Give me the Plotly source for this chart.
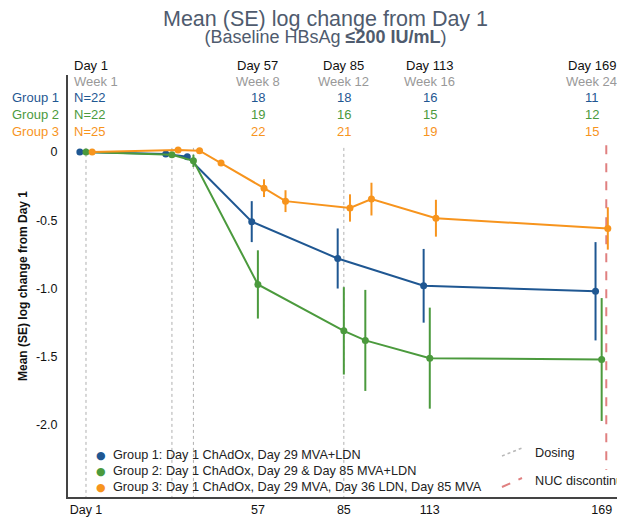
import plotly.graph_objects as go

# ---- data ----
g1_days = [1, 29, 36, 57, 85, 113, 169]
g1_mean = [0, -0.015, -0.035, -0.51, -0.78, -0.98, -1.02]
g1_se = [0, 0.01, 0.015, 0.15, 0.22, 0.27, 0.36]

g2_days = [1, 29, 36, 57, 85, 92, 113, 169]
g2_mean = [0, -0.02, -0.065, -0.97, -1.31, -1.38, -1.51, -1.52]
g2_se = [0, 0.01, 0.045, 0.25, 0.32, 0.37, 0.37, 0.45]

g3_days = [1, 29, 36, 43, 57, 64, 85, 92, 113, 169]
g3_mean = [0, 0.015, 0.01, -0.08, -0.265, -0.36, -0.41, -0.345, -0.485, -0.56]
g3_se = [0, 0.01, 0.01, 0.02, 0.065, 0.08, 0.1, 0.12, 0.135, 0.155]

dosing_days = [1, 29, 36, 85]
nuc_day = 170.5

header_days = [1, 57, 85, 113, 169]
header_weeks = ["Week 1", "Week 8", "Week 12", "Week 16", "Week 24"]
n_g1 = ["N=22", "18", "18", "16", "11"]
n_g2 = ["N=22", "19", "16", "15", "12"]
n_g3 = ["N=25", "22", "21", "19", "15"]

group_names = ["Group 1", "Group 2", "Group 3"]
legend_labels = [
    "Group 1: Day 1 ChAdOx, Day 29 MVA+LDN",
    "Group 2: Day 1 ChAdOx, Day 29 & Day 85 MVA+LDN",
    "Group 3: Day 1 ChAdOx, Day 29 MVA, Day 36 LDN, Day 85 MVA",
]

x_tickvals = [1, 57, 85, 113, 169]
x_ticktext = ["Day 1", "57", "85", "113", "169"]
y_tickvals = [0, -0.5, -1.0, -1.5, -2.0]
y_ticktext = ["0", "-0.5", "-1.0", "-1.5", "-2.0"]

# ---- style ----
colors = ["#1f5792", "#4b9a3d", "#f7941d"]
dodge = [-2, 0, 2]
FONT = "Liberation Sans, Arial, sans-serif"

# page body has an 8px margin, so the figure is drawn 8px in from the top-left
OFF = 8
W, H = 625 - OFF, 524 - OFF
ML, MR, MT, MB = 68 - OFF, 0, 75 - OFF, 27
PW, PH = W - ML - MR, H - MT - MB


def px(xp):  # page pixel -> paper x
    return (xp - OFF - ML) / PW


def py(yp):  # page pixel -> paper y
    return (H - MB - (yp - OFF)) / PH


fig = go.Figure()

# dosing lines
for d in dosing_days:
    fig.add_shape(type="line", xref="x", yref="y", x0=d, x1=d, y0=0.03, y1=-2.53,
                  line=dict(color="#b0b0b0", width=1, dash="dot"), layer="below")
# NUC discontinuation
fig.add_shape(type="line", xref="x", yref="y", x0=nuc_day, x1=nuc_day, y0=0.05, y1=-2.33,
              line=dict(color="#e08080", width=2, dash="dash"), layer="below")

groups = [(g1_days, g1_mean, g1_se), (g2_days, g2_mean, g2_se), (g3_days, g3_mean, g3_se)]
for i, (days, mean, se) in enumerate(groups):
    fig.add_trace(go.Scatter(
        x=[d + dodge[i] for d in days], y=mean,
        mode="lines+markers",
        line=dict(color=colors[i], width=2),
        marker=dict(color=colors[i], size=7),
        error_y=dict(type="data", array=se, visible=True, color=colors[i], thickness=2, width=0),
        showlegend=False, name=group_names[i],
    ))

ann = []
# title block (two lines in one text, line pitch set by the 13px base font)
ann.append(dict(
    text="<span style='font-size:21.5px'>Mean (SE) log change from Day 1</span><br>"
         "<span style='font-size:18px'>(Baseline HBsAg <b>≤200 IU/mL</b>)</span>",
    x=px(325), y=py(27), xref="paper", yref="paper", showarrow=False, align="center",
    font=dict(size=13, color="#4f5b6e", family=FONT), xanchor="center", yanchor="middle"))

# header table
rows_y = [py(65), py(81), py(98), py(114), py(131)]
for j, d in enumerate(header_days):
    if j == 0:
        xa, xs = "left", -14
    elif d == 169:
        xa, xs = "center", -10
    else:
        xa, xs = "center", 0
    cells = [("Day %d" % d, "#111111"), (header_weeks[j], "#999999"),
             (n_g1[j], colors[0]), (n_g2[j], colors[1]), (n_g3[j], colors[2])]
    for r, (t, c) in enumerate(cells):
        ann.append(dict(text=t, x=d, y=rows_y[r], xref="x", yref="paper", xanchor=xa, xshift=xs,
                        yanchor="middle", showarrow=False, font=dict(size=13, color=c, family=FONT)))
for i, g in enumerate(group_names):
    ann.append(dict(text=g, x=px(61), y=rows_y[2 + i], xref="paper", yref="paper", xanchor="right",
                    yanchor="middle", showarrow=False, font=dict(size=13, color=colors[i], family=FONT)))

# legend (groups)
leg_y = [455, 471, 487]
for i, lab in enumerate(legend_labels):
    ann.append(dict(text="●", x=px(101), y=py(leg_y[i]), xref="paper", yref="paper", xanchor="center",
                    yanchor="middle", showarrow=False, font=dict(size=11, color=colors[i], family="DejaVu Sans")))
    ann.append(dict(text=lab, x=px(111), y=py(leg_y[i]), xref="paper", yref="paper", xanchor="left",
                    yanchor="middle", showarrow=False, font=dict(size=12.7, color="#222222", family=FONT)))

# legend (reference lines)
fig.add_shape(type="line", xref="paper", yref="paper", x0=px(502), x1=px(522), y0=py(456), y1=py(448),
              line=dict(color="#b8b8b8", width=1.5, dash="dot"))
fig.add_shape(type="line", xref="paper", yref="paper", x0=px(502), x1=px(522), y0=py(487), y1=py(478),
              line=dict(color="#e08080", width=2, dash="dash"))
ann.append(dict(text="Dosing", x=px(533), y=py(453), xref="paper", yref="paper", xanchor="left",
                yanchor="middle", showarrow=False, font=dict(size=12.7, color="#222222", family=FONT)))
ann.append(dict(text="NUC discontinuation", x=px(533), y=py(481), xref="paper", yref="paper", xanchor="left",
                yanchor="middle", showarrow=False, font=dict(size=12.7, color="#222222", family=FONT)))

fig.update_layout(
    width=W, height=H,
    margin=dict(l=ML, r=MR, t=MT, b=MB, autoexpand=False),
    plot_bgcolor="white", paper_bgcolor="white",
    font=dict(family=FONT, size=12, color="#111111"),
    annotations=ann,
    xaxis=dict(range=[-4.86, 176.6], showgrid=False, zeroline=False, showline=True,
               linecolor="#444444", linewidth=2, tickvals=x_tickvals, ticktext=x_ticktext,
               ticks="", tickfont=dict(size=12.5, color="#111111"), fixedrange=True),
    yaxis=dict(range=[-2.527, 0.564], showgrid=False, zeroline=False, showline=True,
               linecolor="#444444", linewidth=2, tickvals=y_tickvals, ticktext=y_ticktext,
               ticks="", ticklabelstandoff=6, tickfont=dict(size=12.5, color="#111111"),
               title=dict(text="<b>Mean (SE) log change from Day 1</b>", font=dict(size=12, color="#111111"),
                          standoff=6)),
    showlegend=False,
)

fig.write_html("out.html")
